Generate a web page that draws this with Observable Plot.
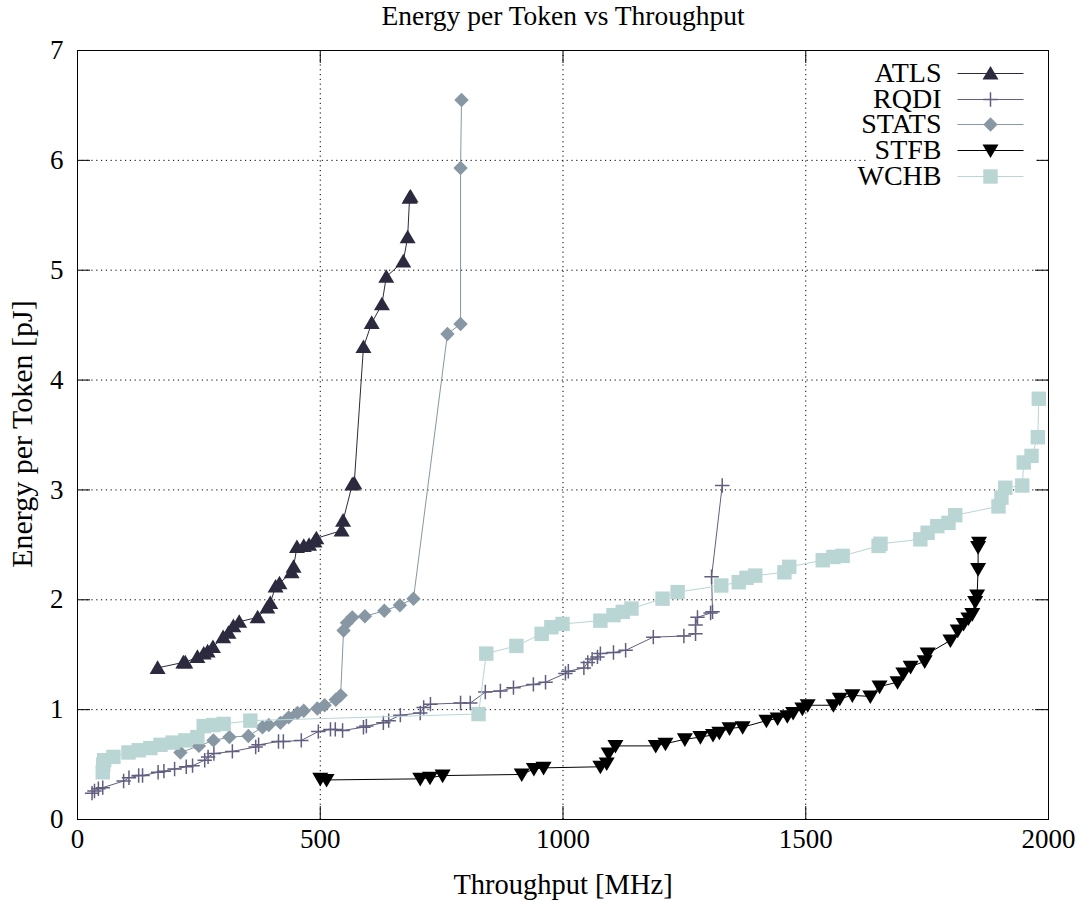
<!DOCTYPE html>
<html>
<head>
<meta charset="utf-8">
<script src="https://cdn.jsdelivr.net/npm/d3@7"></script>
<script src="https://cdn.jsdelivr.net/npm/@observablehq/plot@0.6"></script>
<style>
  html, body { margin: 0; padding: 0; background: #fff; }
  #chart svg { display: block; }
</style>
</head>
<body>
<div id="chart"></div>
<script>
// ---- data ----
const seriesNames = ["ATLS", "RQDI", "STATS", "STFB", "WCHB"];
const seriesColors = ["#2c2a3e", "#615f80", "#8797a3", "#000000", "#b9d5d4"];

const xTicks = [0, 500, 1000, 1500, 2000];
const yTicks = [0, 1, 2, 3, 4, 5, 6, 7];

const atlsX = [165,218,222,247,260,268,279,300,311,321,333,371,391,397,408,416,441,445,452,466,477,488,492,544,547,566,570,589,606,627,636,671,680,684,686];
const atlsY = [1.38,1.43,1.43,1.48,1.51,1.53,1.57,1.66,1.70,1.76,1.80,1.84,1.93,1.97,2.12,2.15,2.25,2.30,2.48,2.49,2.50,2.53,2.56,2.63,2.72,3.05,3.06,4.30,4.52,4.69,4.94,5.08,5.30,5.66,5.67];

const rqdiX = [30,35,43,52,95,106,126,134,166,178,200,224,237,262,269,281,319,367,373,414,424,461,496,521,531,546,589,595,630,641,665,706,713,727,789,809,840,871,898,939,964,1005,1011,1043,1051,1060,1071,1077,1104,1129,1186,1249,1273,1273,1277,1304,1308,1306,1328];
const rqdiY = [0.24,0.26,0.28,0.29,0.35,0.38,0.40,0.40,0.43,0.44,0.46,0.48,0.49,0.54,0.57,0.60,0.62,0.66,0.68,0.71,0.71,0.72,0.80,0.82,0.82,0.81,0.84,0.85,0.88,0.90,0.95,0.97,1.02,1.05,1.06,1.06,1.16,1.17,1.20,1.23,1.25,1.33,1.35,1.38,1.43,1.46,1.48,1.51,1.52,1.54,1.66,1.67,1.69,1.77,1.84,1.88,1.89,2.21,3.04];

const statsX = [212,250,280,313,352,381,394,418,435,453,466,494,509,532,542,548,555,566,592,632,664,692,762,789,789,791];
const statsY = [0.61,0.67,0.72,0.75,0.76,0.84,0.86,0.88,0.93,0.97,0.99,1.01,1.04,1.09,1.13,1.72,1.79,1.84,1.85,1.90,1.95,2.01,4.42,4.51,5.93,6.55];

const stfbX = [500,513,706,726,752,915,940,960,1077,1090,1094,1108,1191,1211,1251,1283,1309,1322,1343,1370,1419,1442,1462,1474,1493,1504,1557,1570,1596,1633,1652,1689,1701,1716,1745,1751,1798,1813,1825,1835,1843,1849,1853,1855,1855,1857];
const stfbY = [0.37,0.36,0.37,0.38,0.40,0.41,0.46,0.47,0.48,0.51,0.60,0.67,0.67,0.69,0.73,0.75,0.77,0.79,0.83,0.84,0.90,0.92,0.94,0.97,1.01,1.04,1.04,1.10,1.13,1.12,1.21,1.25,1.33,1.39,1.44,1.51,1.63,1.72,1.78,1.83,1.87,1.98,2.04,2.28,2.48,2.52];

const wchbX = [52,53,55,74,105,126,150,171,196,222,247,260,280,301,356,826,842,904,956,976,999,1077,1104,1123,1141,1205,1236,1326,1362,1378,1396,1456,1466,1535,1557,1576,1650,1654,1736,1751,1771,1794,1808,1897,1903,1911,1946,1949,1965,1978,1980];
const wchbY = [0.43,0.50,0.54,0.57,0.61,0.63,0.65,0.68,0.70,0.72,0.75,0.85,0.86,0.87,0.90,0.96,1.51,1.58,1.69,1.75,1.78,1.81,1.86,1.89,1.92,2.01,2.07,2.13,2.16,2.20,2.22,2.25,2.30,2.36,2.39,2.40,2.49,2.51,2.55,2.61,2.67,2.70,2.77,2.85,2.93,3.02,3.04,3.25,3.31,3.48,3.83];

const titleText = "Energy per Token vs Throughput";
const xLabel = "Throughput [MHz]";
const yLabel = "Energy per Token [pJ]";

// ---- symbols (gnuplot-like) ----
const R = 8;
const rad = size => Math.sqrt(size / Math.PI);
const triUp = {draw(c, size) { const r = rad(size); c.moveTo(0, -r * 0.95); c.lineTo(r, r * 0.75); c.lineTo(-r, r * 0.75); c.closePath(); }};
const triDown = {draw(c, size) { const r = rad(size); c.moveTo(0, r * 0.95); c.lineTo(r, -r * 0.75); c.lineTo(-r, -r * 0.75); c.closePath(); }};
const diamond = {draw(c, size) { const r = rad(size) * 0.9; c.moveTo(0, -r); c.lineTo(r, 0); c.lineTo(0, r); c.lineTo(-r, 0); c.closePath(); }};
const square = {draw(c, size) { const r = rad(size) * 0.9; c.moveTo(-r, -r); c.lineTo(r, -r); c.lineTo(r, r); c.lineTo(-r, r); c.closePath(); }};
const plus = {draw(c, size) { const r = rad(size) * 0.9; c.moveTo(-r, 0); c.lineTo(r, 0); c.moveTo(0, -r); c.lineTo(0, r); }};
const hline = {draw(c) { c.moveTo(-33, 0); c.lineTo(33, 0); }};
const keyBox = {draw(c) { c.moveTo(-180, 8); c.lineTo(-12, 8); c.lineTo(-12, 140); c.lineTo(-180, 140); c.closePath(); }};

const xsList = [atlsX, rqdiX, statsX, stfbX, wchbX];
const ysList = [atlsY, rqdiY, statsY, stfbY, wchbY];
const symbols = [triUp, plus, diamond, triDown, square];

const series = seriesNames.map((name, i) => ({
  name,
  color: seriesColors[i],
  symbol: symbols[i],
  filled: symbols[i] !== plus,
  data: xsList[i].map((x, j) => ({x, y: ysList[i][j]}))
}));

const W = 1086, H = 902;
const mL = 77, mR = 38, mT = 50, mB = 83;
const plotW = W - mL - mR, plotH = H - mT - mB;
const TICK = 13;
const FONT = "Liberation Serif, Times New Roman, serif";

const marks = [
  Plot.gridX(xTicks.slice(1, -1), {stroke: "#000", strokeOpacity: 1, strokeWidth: 1, strokeDasharray: "1.2,3.6"}),
  Plot.gridY(yTicks.slice(1, -1), {stroke: "#000", strokeOpacity: 1, strokeWidth: 1, strokeDasharray: "1.2,3.6"}),
  Plot.tickX(xTicks, {x: d => d, insetTop: plotH - TICK, stroke: "#000"}),
  Plot.tickX(xTicks, {x: d => d, insetBottom: plotH - TICK, stroke: "#000"}),
  Plot.tickY(yTicks, {y: d => d, insetRight: plotW - TICK, stroke: "#000"}),
  Plot.tickY(yTicks, {y: d => d, insetLeft: plotW - TICK, stroke: "#000"}),
  Plot.axisX(xTicks, {tickSize: 0, tickPadding: 9, tickFormat: d => String(d), fontSize: 27, label: null}),
  Plot.axisY(yTicks, {tickSize: 0, tickPadding: 14, tickFormat: d => String(d), fontSize: 27, label: null}),
  Plot.dot([0], {frameAnchor: "top-right", symbol: keyBox, fill: "#fff", stroke: "none"})
];

for (const s of series) {
  marks.push(Plot.line(s.data, {x: "x", y: "y", stroke: s.color, strokeWidth: 1}));
  marks.push(Plot.dot(s.data, s.filled
    ? {x: "x", y: "y", symbol: s.symbol, r: R, fill: s.color, stroke: "none"}
    : {x: "x", y: "y", symbol: s.symbol, r: R, fill: "none", stroke: s.color, strokeWidth: 1.5}));
}

marks.push(Plot.frame({stroke: "#000", strokeWidth: 1}));

// legend
const rowDy = [23, 49, 74, 100, 126];
series.forEach((s, i) => {
  marks.push(Plot.text([s.name], {frameAnchor: "top-right", dx: -107, dy: rowDy[i], textAnchor: "end", lineAnchor: "middle", fontSize: 28, fill: "#000"}));
  marks.push(Plot.dot([0], {frameAnchor: "top-right", dx: -58, dy: rowDy[i], symbol: hline, stroke: s.color, strokeWidth: 1, fill: "none"}));
  marks.push(Plot.dot([0], s.filled
    ? {frameAnchor: "top-right", dx: -58, dy: rowDy[i], symbol: s.symbol, r: R, fill: s.color, stroke: "none"}
    : {frameAnchor: "top-right", dx: -58, dy: rowDy[i], symbol: s.symbol, r: R, fill: "none", stroke: s.color, strokeWidth: 1.5}));
});

// title and axis labels
marks.push(Plot.text([titleText], {frameAnchor: "top", dy: -34, textAnchor: "middle", lineAnchor: "middle", fontSize: 27.5, fill: "#000"}));
marks.push(Plot.text([xLabel], {frameAnchor: "bottom", dy: 65, textAnchor: "middle", lineAnchor: "middle", fontSize: 28.5, fill: "#000"}));
marks.push(Plot.text([yLabel], {frameAnchor: "left", dx: -55, dy: -1, rotate: -90, textAnchor: "middle", lineAnchor: "middle", fontSize: 30, fill: "#000"}));

const chart = Plot.plot({
  width: W,
  height: H,
  marginLeft: mL,
  marginRight: mR,
  marginTop: mT,
  marginBottom: mB,
  style: {fontFamily: FONT, background: "#fff", color: "#000"},
  x: {domain: [0, 2000], label: null},
  y: {domain: [0, 7], label: null},
  marks
});
document.getElementById("chart").appendChild(chart);
</script>
</body>
</html>
